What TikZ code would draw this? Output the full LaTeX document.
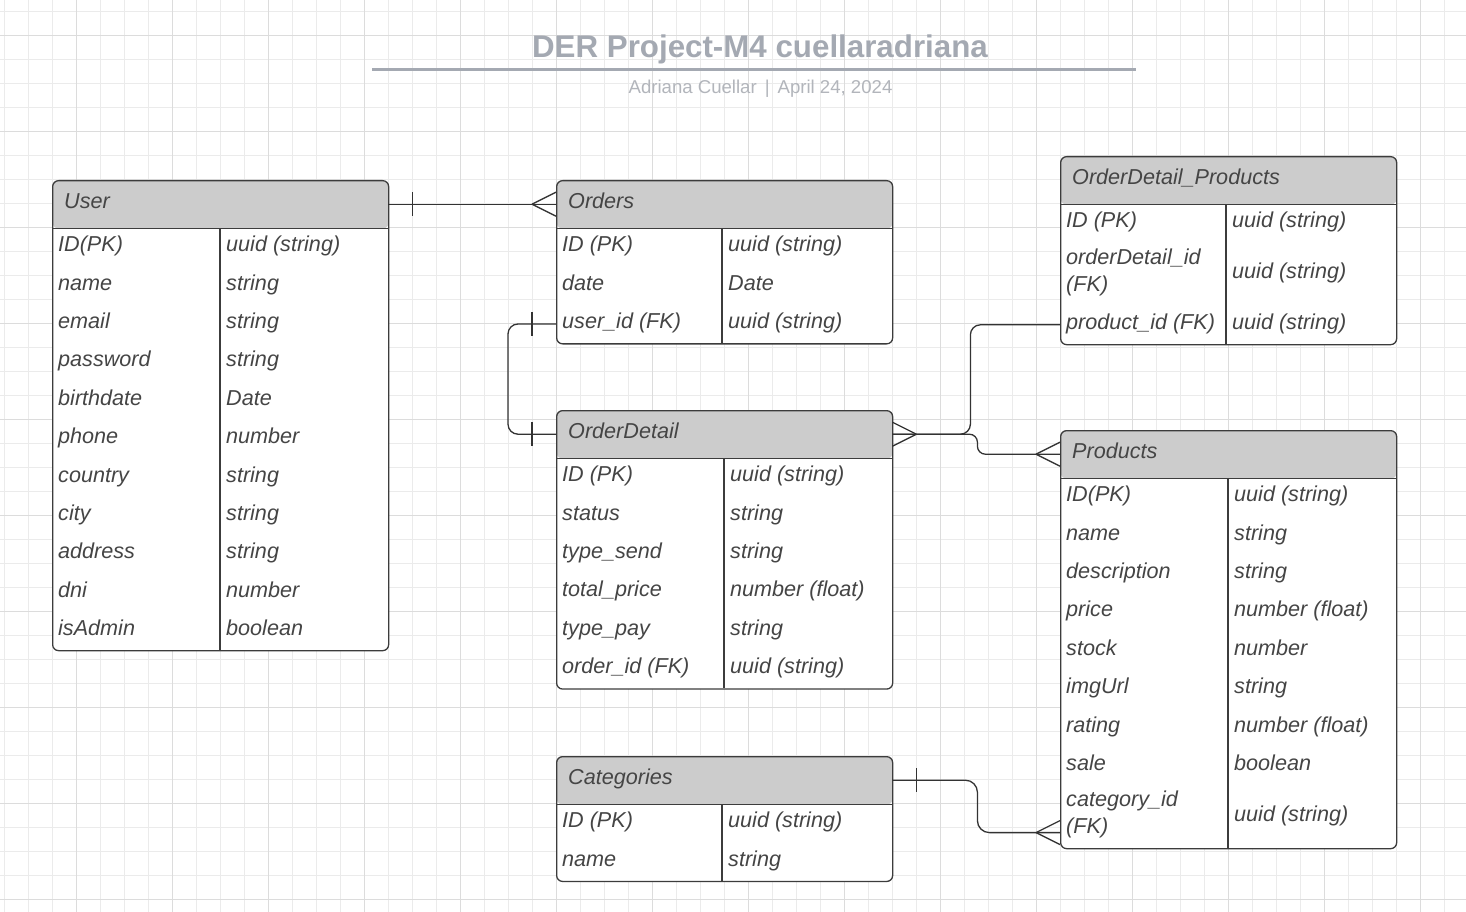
\documentclass[tikz,border=0pt]{standalone}
\usepackage{fontspec}
\setmainfont{Liberation Sans}
\usepackage{xcolor}
\usetikzlibrary{calc}

\definecolor{gridminor}{HTML}{EBEBEB}
\definecolor{gridmajor}{HTML}{DCDCDC}
\definecolor{headgrey}{HTML}{CCCCCC}
\definecolor{framecol}{HTML}{3C3C3C}
\definecolor{txtcol}{HTML}{454545}
\definecolor{titlecol}{HTML}{A4A9B2}
\definecolor{subcol}{HTML}{B2B5BB}
\definecolor{relcol}{HTML}{333333}

\tikzset{
  tblframe/.style={draw=framecol, line width=1.3pt, fill=white, rounded corners=6pt,
    anchor=north west, inner sep=0pt, minimum width=336,
    path picture={
      \fill[headgrey] (path picture bounding box.north west) rectangle ([yshift=-48pt]path picture bounding box.north east);
      \draw[framecol, line width=1.3pt] ([yshift=-48pt]path picture bounding box.north west) -- ([yshift=-48pt]path picture bounding box.north east);
    }},
  headtxt/.style={anchor=north west, inner xsep=12pt, inner ysep=0pt, text width=312pt,
    minimum height=48pt, text height=15pt, text depth=6pt, align=left,
    font=\fontsize{21.6}{25.5}\selectfont\itshape, text=txtcol},
  fieldtxt/.style={anchor=west, inner sep=0pt, text height=15pt, text depth=6pt,
    font=\fontsize{21.6}{25.5}\selectfont\itshape, text=txtcol},
  fieldtwo/.style={anchor=west, inner sep=0pt, align=left,
    font=\fontsize{21.6}{27}\selectfont\itshape, text=txtcol},
  coldiv/.style={draw=framecol, line width=1.3pt},
  relline/.style={draw=relcol, line width=1.3pt},
  crowfoot/.pic={\draw[relline] (-24,0) -- (0,-12) (-24,0) -- (0,12);},
  onebar/.pic={\draw[relline] (-24,-12) -- (-24,12);},
}

\begin{document}
\begin{tikzpicture}[x=1pt, y=-1pt]
  \useasboundingbox (0,0) rectangle (1466,912);
  \fill[white] (0,0) rectangle (1466,912);

  % grid
  \foreach \gx in {4.3,28.3,...,1466} {
    \draw[gridminor, line width=1pt] (\gx,0) -- (\gx,912);
  }
  \foreach \gy in {11.3,35.3,...,912} {
    \draw[gridminor, line width=1pt] (0,\gy) -- (1466,\gy);
  }
  \foreach \gx in {76.3,172.3,...,1466} {
    \draw[gridmajor, line width=1pt] (\gx,0) -- (\gx,912);
  }
  \foreach \gy in {35.3,131.3,...,912} {
    \draw[gridmajor, line width=1pt] (0,\gy) -- (1466,\gy);
  }

  % title
  \node[font=\fontsize{31.3}{36}\selectfont\bfseries, text=titlecol, anchor=base] (title) at (760,57.3) {DER Project-M4 cuellaradriana};
  \draw[titlecol, line width=2.5pt] (372,69.3) -- (1136,69.3);
  \node[font=\fontsize{18.6}{22}\selectfont, text=subcol, anchor=base] (subtitle) at (760.5,94) {Adriana Cuellar\hspace{8pt}|\hspace{8pt}April 24, 2024};

  % User
  \node[tblframe, minimum height=470] (user) at (52,180) {};
  \node[headtxt] (user-h) at (user.north west) {User};
  \foreach \f/\t [count=\i] in {ID(PK)/uuid (string), name/string, email/string, password/string, birthdate/Date, phone/number, country/string, city/string, address/string, dni/number, isAdmin/boolean} {
    \node[fieldtxt] (user-f\i) at (58,208.8+38.4*\i) {\f};
    \node[fieldtxt] (user-t\i) at (226,208.8+38.4*\i) {\t};
  }
  \draw[coldiv] (220,228) -- (220,650);

  % Orders
  \node[tblframe, minimum height=163.2] (ord) at (556,180) {};
  \node[headtxt] (ord-h) at (ord.north west) {Orders};
  \foreach \f/\t [count=\i] in {ID (PK)/uuid (string), date/Date, user\_id (FK)/uuid (string)} {
    \node[fieldtxt] (ord-f\i) at (562,208.8+38.4*\i) {\f};
    \node[fieldtxt] (ord-t\i) at (728,208.8+38.4*\i) {\t};
  }
  \draw[coldiv] (722,228) -- (722,343.2);

  % OrderDetail
  \node[tblframe, minimum height=278.4] (odt) at (556,410) {};
  \node[headtxt] (odt-h) at (odt.north west) {OrderDetail};
  \foreach \f/\t [count=\i] in {ID (PK)/uuid (string), status/string, type\_send/string, total\_price/number (float), type\_pay/string, order\_id (FK)/uuid (string)} {
    \node[fieldtxt] (odt-f\i) at (562,438.8+38.4*\i) {\f};
    \node[fieldtxt] (odt-t\i) at (730,438.8+38.4*\i) {\t};
  }
  \draw[coldiv] (724,458) -- (724,688.4);

  % Categories
  \node[tblframe, minimum height=124.8] (cat) at (556,756) {};
  \node[headtxt] (cat-h) at (cat.north west) {Categories};
  \foreach \f/\t [count=\i] in {ID (PK)/uuid (string), name/string} {
    \node[fieldtxt] (cat-f\i) at (562,784.8+38.4*\i) {\f};
    \node[fieldtxt] (cat-t\i) at (728,784.8+38.4*\i) {\t};
  }
  \draw[coldiv] (722,804) -- (722,880.8);

  % OrderDetail_Products
  \node[tblframe, minimum height=188] (odp) at (1060,156) {};
  \node[headtxt] (odp-h) at (odp.north west) {OrderDetail\_Products};
  \node[fieldtxt] (odp-f1) at (1066,223.2) {ID (PK)};
  \node[fieldtxt] (odp-t1) at (1232,223.2) {uuid (string)};
  \node[fieldtwo] (odp-f2) at (1066,272) {orderDetail\_id\\(FK)};
  \node[fieldtxt] (odp-t2) at (1232,274) {uuid (string)};
  \node[fieldtxt] (odp-f3) at (1066,324.8) {product\_id (FK)};
  \node[fieldtxt] (odp-t3) at (1232,324.8) {uuid (string)};
  \draw[coldiv] (1226,204) -- (1226,344);

  % Products
  \node[tblframe, minimum height=418] (prd) at (1060,430) {};
  \node[headtxt] (prd-h) at (prd.north west) {Products};
  \foreach \f/\t [count=\i] in {ID(PK)/uuid (string), name/string, description/string, price/number (float), stock/number, imgUrl/string, rating/number (float), sale/boolean} {
    \node[fieldtxt] (prd-f\i) at (1066,458.8+38.4*\i) {\f};
    \node[fieldtxt] (prd-t\i) at (1234,458.8+38.4*\i) {\t};
  }
  \node[fieldtwo] (prd-f9) at (1066,814.6) {category\_id\\(FK)};
  \node[fieldtxt] (prd-t9) at (1234,816.6) {uuid (string)};
  \draw[coldiv] (1228,478) -- (1228,848);

  % relations
  \draw[relline] (user-h.east) -- (ord-h.west);
  \pic[xscale=-1] at (user-h.east) {onebar};
  \pic at (ord-h.west) {crowfoot};

  \draw[relline, rounded corners=10pt] (ord.west |- ord-f3) -- ++(-48,0) |- (odt-h.west);
  \pic at (ord.west |- ord-f3) {onebar};
  \pic at (odt-h.west) {onebar};

  \draw[relline, rounded corners=10pt] (odt-h.east) -- ++(78,0) |- (odp.west |- odp-f3);
  \draw[relline, rounded corners=8pt] (odt-h.east) -- ++(85,0) |- (prd-h.west);
  \pic[xscale=-1] at (odt-h.east) {crowfoot};
  \pic at (prd-h.west) {crowfoot};

  \coordinate (prd-catin) at ($(prd.west |- prd-f9)+(0,18)$);
  \draw[relline, rounded corners=12pt] (cat-h.east) -- ++(85,0) |- (prd-catin);
  \pic[xscale=-1] at (cat-h.east) {onebar};
  \pic at (prd-catin) {crowfoot};
\end{tikzpicture}
\end{document}
